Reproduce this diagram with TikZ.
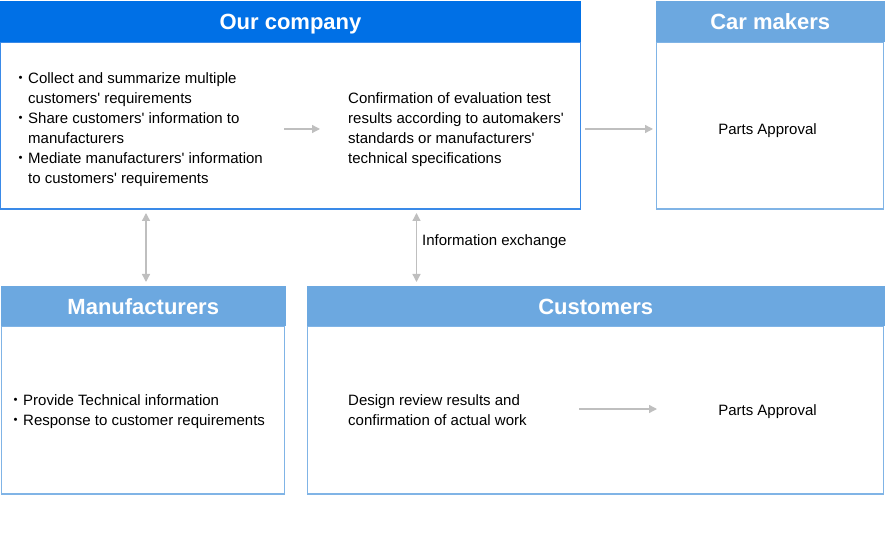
\documentclass[tikz,border=0pt]{standalone}
\usepackage{fontspec}
\setmainfont{Liberation Sans}[Ligatures=TeXOff]
\newfontfamily\cjk{Noto Sans CJK JP}
\usetikzlibrary{arrows.meta}
\definecolor{darkhead}{HTML}{0070E6}
\definecolor{lighthead}{HTML}{6CA8E0}
\definecolor{darkborder}{HTML}{3A8AE8}
\definecolor{lightborder}{HTML}{80B4E6}
\definecolor{arrowgray}{HTML}{BFBFBF}
\newcommand{\bul}{{\cjk ・}}
\begin{document}
\begin{tikzpicture}[x=1pt,y=-1pt,
  headbox/.style={anchor=north west,inner sep=0pt,outer sep=0pt,text=white,
    text height=16pt,text depth=0pt,
    font=\fontsize{22}{26}\selectfont\bfseries},
  bodybox/.style={draw,line width=1.3pt,anchor=north west,inner sep=0pt,outer sep=0pt},
  txt/.style={anchor=base west,inner sep=0pt,align=left,
    font=\fontsize{15}{20}\selectfont},
  conn/.style={draw=arrowgray,line width=1.3pt,-{Triangle[length=8pt,width=8pt]}},
  dconn/.style={draw=arrowgray,line width=1.3pt,{Triangle[length=8pt,width=8pt]}-{Triangle[length=8pt,width=8pt]}}
]
\useasboundingbox (0,0) rectangle (885,534);

% Our company
\node[bodybox,draw=darkborder,minimum width=580pt,minimum height=167pt] (ocbody) at (0.65,42) {};
\node[headbox,fill=darkhead,minimum width=581pt,minimum height=41pt] (ochead) at (0,1) {Our company};

% Car makers
\node[bodybox,draw=lightborder,minimum width=227pt,minimum height=167pt] (cmbody) at (656.65,42) {};
\node[headbox,fill=lighthead,minimum width=228.5pt,minimum height=41pt] (cmhead) at (656,1) {Car makers};

% Manufacturers
\node[bodybox,draw=lightborder,minimum width=283pt,minimum height=168pt] (mfbody) at (1.65,326) {};
\node[headbox,fill=lighthead,minimum width=284.5pt,minimum height=40pt] (mfhead) at (1,286) {Manufacturers};

% Customers
\node[bodybox,draw=lightborder,minimum width=576pt,minimum height=168pt] (cubody) at (307.65,326) {};
\node[headbox,fill=lighthead,minimum width=577.5pt,minimum height=40pt] (cuhead) at (307,286) {Customers};

% texts (base anchor = baseline of last line)
\node[txt] (octxt) at (13,184) {\bul Collect and summarize multiple\\
\hspace*{15pt}customers' requirements\\
\bul Share customers' information to\\
\hspace*{15pt}manufacturers\\
\bul Mediate manufacturers' information\\
\hspace*{15pt}to customers' requirements};
\node[txt] (conf) at (348,164) {Confirmation of evaluation test\\
results according to automakers'\\
standards or manufacturers'\\
technical specifications};
\node[txt,anchor=base] (pa1) at (767.5,135) {Parts Approval};
\node[txt] (mftxt) at (8,425) {\bul Provide Technical information\\
\bul Response to customer requirements};
\node[txt] (design) at (348,425) {Design review results and\\
confirmation of actual work};
\node[txt,anchor=base] (pa2) at (767.5,415) {Parts Approval};

% connectors
\coordinate (a1s) at (284,129);
\coordinate (a1e) at (320,129);
\draw[conn] (a1s) -- (a1e);
\coordinate (a2s) at (585,129);
\coordinate (a2e) at (653,129);
\draw[conn] (a2s) -- (a2e);
\coordinate (a3s) at (579,409);
\coordinate (a3e) at (657,409);
\draw[conn] (a3s) -- (a3e);
\coordinate (d1s) at (146,213);
\coordinate (d1e) at (146,282);
\draw[dconn] (d1s) -- (d1e);
\coordinate (d2s) at (416.5,213);
\coordinate (d2e) at (416.5,282);
\draw[dconn] (d2s) -- (d2e);
\node[txt] (info) at (422,246) {Information exchange};
\end{tikzpicture}
\end{document}
